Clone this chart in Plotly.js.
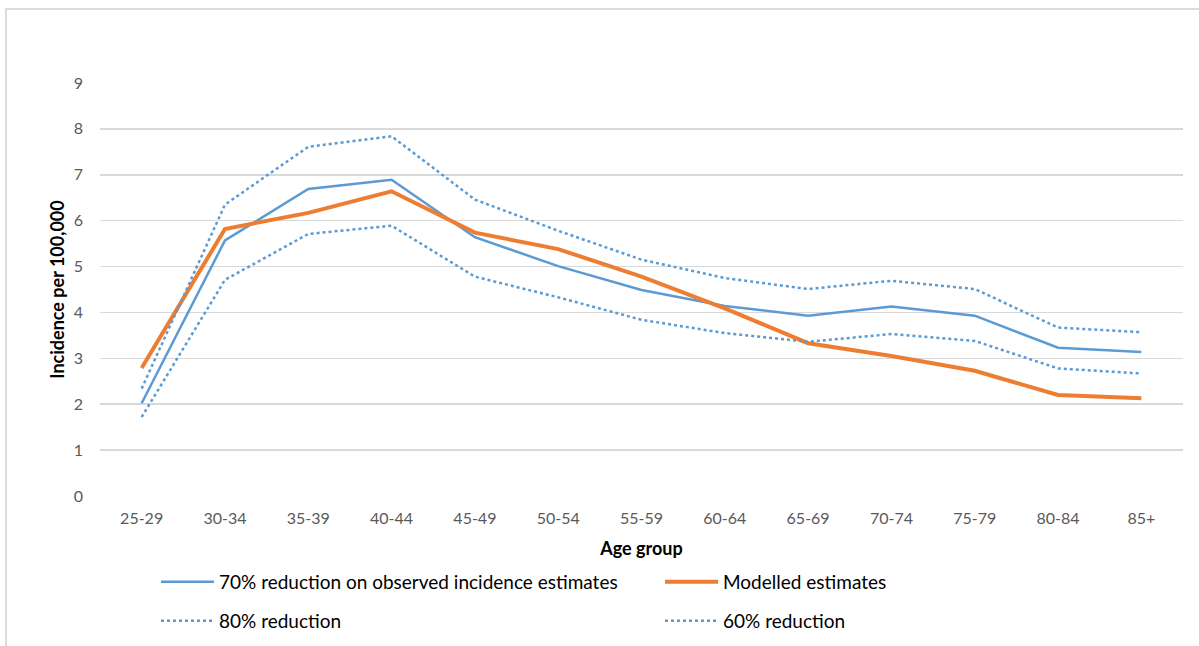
<!DOCTYPE html>
<html>
<head>
<meta charset="utf-8">
<script src="https://cdn.plot.ly/plotly-3.0.1.min.js"></script>
<style>
html,body{margin:0;padding:0;background:#fff;}
#wrap{position:relative;width:1199px;height:646px;overflow:hidden;}
#chart{width:1199px;height:646px;}
#frame{position:absolute;left:5px;top:8px;width:1300px;height:700px;border-top:2px solid #dcdcdc;border-left:2px solid #dcdcdc;pointer-events:none;}
</style>
</head>
<body>
<div id="wrap"><div id="chart"></div><div id="frame"></div></div>
<script>
const ageGroups = ["25-29","30-34","35-39","40-44","45-49","50-54","55-59","60-64","65-69","70-74","75-79","80-84","85+"];
const reduction70 = [2.02,5.57,6.69,6.89,5.64,5.01,4.49,4.14,3.93,4.13,3.93,3.23,3.14];
const modelled    = [2.79,5.82,6.17,6.64,5.74,5.38,4.78,4.09,3.33,3.05,2.73,2.20,2.13];
const reduction80 = [2.34,6.35,7.61,7.84,6.46,5.78,5.15,4.75,4.51,4.69,4.51,3.67,3.57];
const reduction60 = [1.72,4.71,5.71,5.89,4.78,4.33,3.84,3.55,3.36,3.53,3.38,2.78,2.67];
const yTicks = [0,1,2,3,4,5,6,7,8,9];

const FONT = "Lato, 'Open Sans', sans-serif";
const blue = "#5B9BD5", orange = "#ED7D31";

const traces = [
  {x: ageGroups, y: reduction70, name: "70% reduction on observed incidence estimates", type: "scatter", mode: "lines",
   line: {color: blue, width: 2.5}, legend: "legend"},
  {x: ageGroups, y: modelled, name: "Modelled estimates", type: "scatter", mode: "lines",
   line: {color: orange, width: 4}, legend: "legend2"},
  {x: ageGroups, y: reduction80, name: "80% reduction", type: "scatter", mode: "lines",
   line: {color: blue, width: 2.5, dash: "dot"}, legend: "legend3"},
  {x: ageGroups, y: reduction60, name: "60% reduction", type: "scatter", mode: "lines",
   line: {color: blue, width: 2.5, dash: "dot"}, legend: "legend4"}
];

function mkLegend(xpx, ypx) {
  return {
    orientation: "h", xref: "container", yref: "container", x: xpx / 1199, y: 1 - ypx / 646,
    xanchor: "left", yanchor: "middle", itemwidth: 53, bgcolor: "rgba(0,0,0,0)",
    font: {family: FONT, size: 19, color: "#000"}, itemclick: false, itemdoubleclick: false
  };
}

const layout = {
  width: 1199, height: 646,
  margin: {l: 100, r: 16, t: 83.3, b: 150.3, autoexpand: false},
  paper_bgcolor: "#fff", plot_bgcolor: "#fff",
  font: {family: FONT, color: "#595959", size: 16},
  showlegend: true,
  xaxis: {
    type: "category", range: [-0.5, 12.5], showgrid: false, zeroline: false, showline: false,
    ticks: "", tickfont: {family: FONT, size: 16, color: "#595959"}, ticklabelstandoff: 11,
    title: {text: "<b>Age group</b>", font: {family: FONT, size: 18, color: "#000"}, standoff: 16}
  },
  yaxis: {
    range: [0, 9], tickvals: yTicks, ticktext: yTicks.map(String), showgrid: true, gridcolor: "#d9d9d9", gridwidth: 1.5,
    zeroline: false, showline: false, ticks: "", tickfont: {family: FONT, size: 16, color: "#595959"},
    ticklabelstandoff: 16,
    title: {text: "<b>Incidence per 100,000</b>", font: {family: FONT, size: 18, color: "#000"}, standoff: 4}
  },
  legend: mkLegend(156, 582),
  legend2: mkLegend(660, 582),
  legend3: mkLegend(156, 621),
  legend4: mkLegend(660, 621)
};

Plotly.newPlot("chart", traces, layout, {displayModeBar: false, staticPlot: true});
</script>
</body>
</html>
